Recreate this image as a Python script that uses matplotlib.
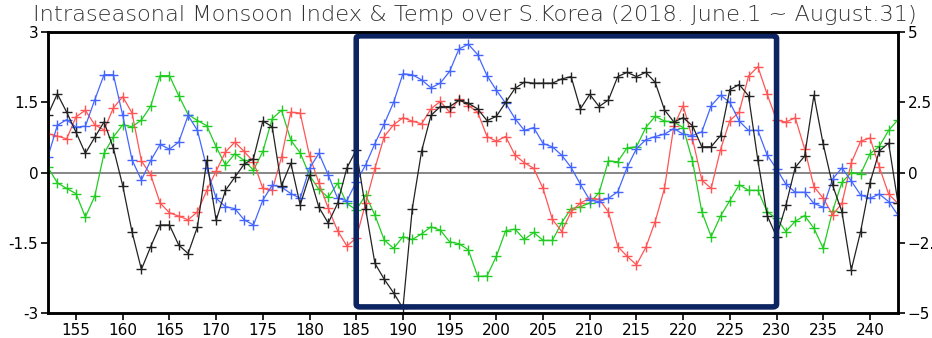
import numpy as np
import matplotlib
matplotlib.use("Agg")
import matplotlib.pyplot as plt
from matplotlib.patches import FancyBboxPatch

# Day of year: 152 (June 1) .. 243 (August 31)
days = list(range(152, 244))

black = [1.24, 1.68, 1.29, 0.86, 0.41, 0.75, 1.08, 0.52, -0.28, -1.27,
         -2.07, -1.58, -1.12, -1.12, -1.55, -1.73, -1.16, 0.26, -1.02, -0.38,
         -0.10, 0.18, 0.30, 1.10, 0.98, -0.28, 0.20, -0.69, -0.06, -0.74,
         -1.08, -0.66, 0.10, 0.48, -0.77, -1.94, -2.28, -2.57, -2.90, -0.77,
         0.46, 1.22, 1.41, 1.41, 1.54, 1.48, 1.36, 1.11, 1.20, 1.50,
         1.80, 1.93, 1.91, 1.91, 1.91, 2.00, 2.05, 1.36, 1.67, 1.41,
         1.55, 2.05, 2.14, 2.05, 2.14, 1.93, 1.34, 1.08, 1.17, 1.00,
         0.55, 0.55, 0.79, 1.77, 1.88, 1.64, 0.26, -0.92, -1.37, -0.70,
         0.11, 0.35, 1.65, 0.60, -0.27, -0.84, -2.08, -1.26, -0.22, 0.46,
         0.63, -0.65]

blue = [0.34, 1.01, 1.13, 0.97, 0.99, 1.55, 2.09, 2.09, 1.22, 0.27,
        -0.16, 0.26, 0.60, 0.50, 0.65, 1.22, 0.90, 0.10, -0.55, -0.73,
        -0.77, -1.01, -1.12, -0.59, -0.27, -0.31, -0.45, -0.55, 0.09, 0.41,
        -0.05, -0.55, -0.60, -0.20, 0.16, 0.62, 1.04, 1.50, 2.11, 2.09,
        1.98, 1.81, 1.91, 2.16, 2.64, 2.74, 2.52, 2.07, 1.76, 1.48,
        1.15, 0.90, 0.96, 0.62, 0.55, 0.37, 0.11, -0.25, -0.59, -0.62,
        -0.55, -0.41, 0.11, 0.51, 0.70, 0.77, 0.82, 0.94, 0.82, 0.79,
        0.87, 1.43, 1.65, 1.50, 1.10, 0.90, 0.90, 0.37, 0.08, -0.25,
        -0.42, -0.42, -0.66, -0.74, -0.14, 0.10, -0.18, -0.48, -0.55, -0.46,
        -0.62, -0.91]

red = [0.83, 0.78, 0.72, 1.19, 1.33, 1.02, 0.91, 1.38, 1.62, 1.27,
       0.25, -0.05, -0.65, -0.86, -0.93, -1.01, -0.84, -0.38, 0.03, 0.44,
       0.65, 0.45, 0.23, -0.34, -0.38, 0.33, 1.29, 1.27, 0.36, -0.22,
       -0.76, -1.24, -1.57, -1.40, -0.66, 0.09, 0.77, 1.02, 1.17, 1.10,
       1.04, 1.36, 1.52, 1.29, 1.57, 1.43, 1.29, 0.77, 0.67, 0.77,
       0.37, 0.21, 0.09, -0.34, -1.00, -1.26, -0.84, -0.65, -0.55, -0.57,
       -0.84, -1.58, -1.79, -1.97, -1.60, -1.05, -0.34, 0.99, 1.43, 0.72,
       -0.16, -0.34, 0.49, 1.11, 1.29, 2.06, 2.26, 1.67, 1.12, 1.08,
       1.17, 0.51, -0.30, -0.55, -0.90, -0.66, 0.21, 0.67, 0.74, 0.12,
       -0.46, -0.66]

green = [0.11, -0.22, -0.34, -0.45, -0.95, -0.51, 0.41, 0.76, 1.02, 0.98,
         1.12, 1.42, 2.07, 2.07, 1.64, 1.24, 1.11, 1.00, 0.55, 0.16,
         0.40, 0.26, 0.05, 0.45, 1.15, 1.33, 0.69, 0.42, -0.06, -0.36,
         -0.53, -0.23, -0.66, -0.80, -0.48, -0.91, -1.44, -1.62, -1.37, -1.43,
         -1.31, -1.16, -1.23, -1.48, -1.52, -1.65, -2.22, -2.21, -1.79, -1.24,
         -1.21, -1.43, -1.28, -1.45, -1.45, -1.07, -0.77, -0.73, -0.65, -0.43,
         0.25, 0.23, 0.53, 0.55, 0.96, 1.20, 1.10, 1.08, 0.96, 0.25,
         -0.84, -1.37, -0.93, -0.60, -0.26, -0.38, -0.38, -0.84, -0.98, -1.26,
         -1.04, -0.92, -1.19, -1.62, -0.82, -0.21, 0.00, -0.03, 0.40, 0.56,
         0.90, 1.13]

series = [
    (green, "#22cc22"),
    (red, "#ff5555"),
    (blue, "#4466ff"),
    (black, "#222222"),
]

left_ticks = [-3, -1.5, 0, 1.5, 3]
left_labels = ["-3", "-1.5", "0", "1.5", "3"]
right_ticks = [-5, -2.5, 0, 2.5, 5]
right_labels = ["\u22125", "\u22122.5", "0", "2.5", "5"]
x_ticks = list(range(155, 244, 5))

# Highlighted period
box_start, box_end = 185, 230
box_low, box_high = -2.87, 2.92

fig = plt.figure(figsize=(9.32, 3.38), dpi=100)
ax = fig.add_axes([0.0515, 0.074, 0.912, 0.831])

ax.axhline(0, color="#666666", lw=1.1, zorder=1)

for vals, col in series:
    ax.plot(days, vals, color=col, lw=0.9, marker="+", ms=7, mew=1.0,
            zorder=3)

box = FancyBboxPatch((box_start, box_low), box_end - box_start,
                     box_high - box_low,
                     boxstyle="round,pad=0,rounding_size=0.4",
                     fill=False, ec="#0c2461", lw=4.0, zorder=5,
                     mutation_aspect=0.15)
ax.add_patch(box)

ax.set_xlim(152, 243)
ax.set_ylim(-3, 3)
ax.set_xticks(x_ticks)
ax.set_yticks(left_ticks)
ax.set_yticklabels(left_labels)
ax.tick_params(direction="out", length=5, width=1.2, labelsize=11,
               pad=2)
for s in ax.spines.values():
    s.set_linewidth(1.8)

ax2 = ax.twinx()
ax2.set_ylim(-5, 5)
ax2.set_yticks(right_ticks)
ax2.set_yticklabels(right_labels)
ax2.tick_params(direction="out", length=5, width=1.2, labelsize=11, pad=2)
for s in ax2.spines.values():
    s.set_linewidth(1.8)

fig.text(0.51, 0.957,
         "Intraseasonal Monsoon Index & Temp over S.Korea (2018. June.1 ~ August.31)",
         ha="center", va="center", fontsize=16.2, color="#333333",
         family="DejaVu Sans", fontweight="light")

fig.savefig("out.png", dpi=100)
